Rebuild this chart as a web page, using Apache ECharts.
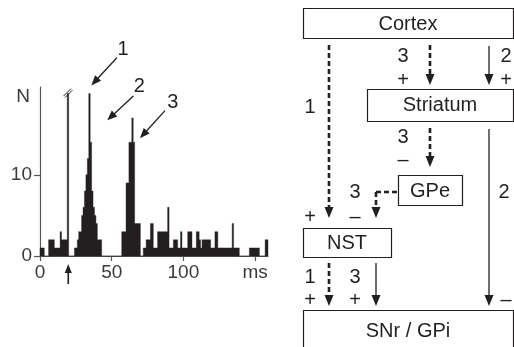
<!DOCTYPE html>
<html><head><meta charset="utf-8">
<script src="https://cdn.jsdelivr.net/npm/echarts@6/dist/echarts.min.js"></script>
<style>html,body{margin:0;padding:0;background:#fff}#c{width:514px;height:347px}</style>
</head><body><div id="c"></div>
<script>
// ---------- data (1-ms bins, counts N) ----------
const BIN_START_MS = 0;
const BIN_WIDTH_MS = 1;
const COUNTS = [
  1,1,1,0,0,0,2,2,2,2,          // 0-9
  1,1,1,1,3,2,2,2,2,20,         // 10-19 (19: stimulus artefact, truncated)
  0,0,0,0,1,1,2,3,3,5,          // 20-29
  6,8,10,12,20,14,8,6,5,4,      // 30-39
  2,2,2,0,0,0,0,0,0,0,          // 40-49
  0,0,0,0,0,0,0,3,3,3,          // 50-59
  9,9,14,14,17,14,4,4,4,4,      // 60-69
  0,0,1,1,2,2,2,4,4,1,          // 70-79
  1,1,3,3,3,3,3,3,3,6,          // 80-89
  1,1,1,2,2,2,1,1,3,1,          // 90-99
  1,1,1,3,3,3,1,1,1,3,          // 100-109
  3,2,1,2,2,2,2,2,2,1,          // 110-119
  1,1,3,3,1,1,1,1,1,1,          // 120-129
  1,1,1,1,4,1,1,1,1,0,          // 130-139
  0,0,0,0,0,0,1,1,1,1,          // 140-149
  1,1,1,0,0,0,0,2,2             // 150-158
];
const X_MAX_MS = 159;
const Y_MAX = 20.8;
const X_TICKS = [0, 50, 100, 150];
const X_TICK_LABELS = ['0', '50', '100', 'ms'];
const Y_TICKS = [0, 10];
const Y_NAME = 'N';
const STIMULUS_MS = 19.7;
const BREAK_POINT = [19.5, 19.8];
const PEAK_LABELS = ['1', '2', '3'];
const PEAK_ARROW_START = [[53.6, 24.4], [65.1, 19.7], [87.2, 17.9]];
const PEAK_ARROW_TIP = [[35.8, 21.0], [46.9, 16.7], [69.7, 14.5]];
const PEAK_LABEL_AT = [[58.0, 25.4], [69.3, 20.9], [92.6, 18.9]];

// ---------- diagram content ----------
const NODES = ['Cortex', 'Striatum', 'GPe', 'NST', 'SNr / GPi'];

const INK = '#231f20';
const AXIS = '#555';
const FONT = '"Liberation Sans", Arial, Helvetica, sans-serif';

const binData = COUNTS.map((v, i) => [BIN_START_MS + i * BIN_WIDTH_MS, v]);

const chart = echarts.init(document.getElementById('c'), null, {renderer: 'canvas'});
chart.setOption({
  animation: false,
  backgroundColor: '#fff',
  grid: {left: 40, top: 87, width: 228, height: 169, containLabel: false},
  xAxis: {
    type: 'value', min: 0, max: X_MAX_MS, interval: 50,
    axisLine: {show: true, onZero: true, lineStyle: {color: AXIS, width: 1.2}},
    axisTick: {show: true, length: 5, customValues: X_TICKS, lineStyle: {color: AXIS, width: 1.2}},
    axisLabel: {customValues: X_TICKS, margin: 7, color: '#3a3a3a', fontSize: 19, fontFamily: FONT,
      formatter: v => { const k = X_TICKS.indexOf(v); return k >= 0 ? X_TICK_LABELS[k] : ''; }},
    splitLine: {show: false}
  },
  yAxis: {
    type: 'value', min: 0, max: Y_MAX, interval: 10,
    axisLine: {show: true, lineStyle: {color: AXIS, width: 1.2}},
    axisTick: {show: true, length: 6, customValues: Y_TICKS, lineStyle: {color: AXIS, width: 1.2}},
    axisLabel: {customValues: Y_TICKS, margin: 8, color: '#3a3a3a', fontSize: 19, fontFamily: FONT},
    splitLine: {show: false}
  },
  series: [{
    type: 'custom', data: binData, silent: true, clip: false,
    encode: {x: 0, y: 1},
    // the whole histogram is drawn as one step polygon (no seams between bins)
    renderItem: function (params, api) {
      if (params.dataIndex !== 0) return null;
      const pts = [api.coord([binData[0][0], 0])];
      for (let i = 0; i < binData.length; i++) {
        const x0 = binData[i][0], v = binData[i][1];
        pts.push(api.coord([x0, v]));
        pts.push(api.coord([x0 + BIN_WIDTH_MS, v]));
      }
      pts.push(api.coord([binData[binData.length - 1][0] + BIN_WIDTH_MS, 0]));
      return {type: 'polygon', shape: {points: pts}, style: {fill: INK, stroke: INK, lineWidth: 0.4}};
    }
  }]
});

// ---------- helpers ----------
function txt(x, y, s, size, color) {
  return {type: 'text', silent: true, z: 10,
    style: {text: s, x: x, y: y, fill: color || INK, font: (size || 20) + 'px ' + FONT,
      align: 'center', verticalAlign: 'middle', textAlign: 'center', textVerticalAlign: 'middle'}};
}
function arrow(x1, y1, x2, y2, opt) {
  opt = opt || {};
  const L = opt.head || 11, W = opt.half || 4.5;
  const dx = x2 - x1, dy = y2 - y1, d = Math.hypot(dx, dy);
  const ux = dx / d, uy = dy / d;
  const bx = x2 - ux * L, by = y2 - uy * L;
  const px = -uy, py = ux;
  return [
    {type: 'line', silent: true, z: 10,
      shape: {x1: x1, y1: y1, x2: bx + ux, y2: by + uy},
      style: {stroke: INK, lineWidth: opt.width || 1.3, lineDash: opt.dash || null}},
    {type: 'polygon', silent: true, z: 10,
      shape: {points: [[x2, y2], [bx + px * W, by + py * W], [bx - px * W, by - py * W]]},
      style: {fill: INK}}
  ];
}
function seg(x1, y1, x2, y2, opt) {
  opt = opt || {};
  return {type: 'line', silent: true, z: 10, shape: {x1, y1, x2, y2},
    style: {stroke: INK, lineWidth: opt.width || 1.3, lineDash: opt.dash || null}};
}
function box(x, y, w, h, label, ty) {
  return [
    {type: 'rect', silent: true, z: 9, shape: {x: x + 0.5, y: y + 0.5, width: w, height: h},
      style: {fill: '#fff', stroke: INK, lineWidth: 1.2}},
    txt(x + w / 2, ty, label, 20)
  ];
}

const toPx = p => chart.convertToPixel({gridIndex: 0}, p);
const g = [];

// y-axis name
const topLeft = toPx([0, Y_MAX]);
g.push(txt(topLeft[0] - 17, topLeft[1] + 10, Y_NAME, 19, '#3a3a3a'));

// peak annotations
for (let i = 0; i < PEAK_LABELS.length; i++) {
  const s = toPx(PEAK_ARROW_START[i]), t = toPx(PEAK_ARROW_TIP[i]), l = toPx(PEAK_LABEL_AT[i]);
  g.push(...arrow(s[0], s[1], t[0], t[1], {width: 1.3, head: 10, half: 4}));
  g.push(txt(l[0], l[1], PEAK_LABELS[i], 20));
}

// axis break mark on the stimulus artefact
const bp = toPx(BREAK_POINT);
g.push(seg(bp[0] - 4.5, bp[1] + 1, bp[0] + 3, bp[1] - 6.5, {width: 1}));
g.push(seg(bp[0] - 3, bp[1] + 2.5, bp[0] + 4.5, bp[1] - 5, {width: 1}));

// stimulus arrow under the x axis
const st = toPx([STIMULUS_MS, 0]);
g.push(...arrow(st[0], st[1] + 28, st[0], st[1] + 8, {width: 1.6, head: 9, half: 3.5}));

// ---------- circuit diagram ----------
const DASH = {width: 2.6, dash: [5, 3], head: 11, half: 4.5};
const SOLID = {width: 1.3, head: 11, half: 4.5};
g.push(...box(303, 8, 210, 30, NODES[0], 24));
g.push(...box(367, 89, 146, 32, NODES[1], 105));
g.push(...box(398, 175, 64, 30, NODES[2], 191));
g.push(...box(303, 228, 88, 29, NODES[3], 243));
g.push(...box(303, 310, 210, 45, NODES[4], 331));

g.push(...arrow(329, 45, 329, 218, DASH));
g.push(...arrow(430, 45, 430, 85, DASH));
g.push(...arrow(489, 46, 489, 85, SOLID));
g.push(...arrow(430, 128, 430, 167, DASH));
g.push(...arrow(489, 129, 489, 306, SOLID));
g.push(seg(397, 192, 376, 192, {width: 2.6, dash: [5, 3]}));
g.push(...arrow(376, 192, 376, 218, DASH));
g.push(...arrow(329, 263, 329, 306, DASH));
g.push(...arrow(376, 263, 376, 306, SOLID));

[
  [310, 107, '1'], [403, 56, '3'], [403, 80, '+'], [506, 56, '2'], [506, 80, '+'],
  [403, 137, '3'], [403, 160, '–'], [355, 192, '3'], [504, 192, '2'],
  [310, 217, '+'], [355, 217, '–'], [310, 277, '1'], [355, 277, '3'],
  [310, 300, '+'], [355, 300, '+'], [506, 300, '–']
].forEach(a => g.push(txt(a[0], a[1], a[2], 20)));

chart.setOption({graphic: {elements: g}});
</script>
</body></html>
